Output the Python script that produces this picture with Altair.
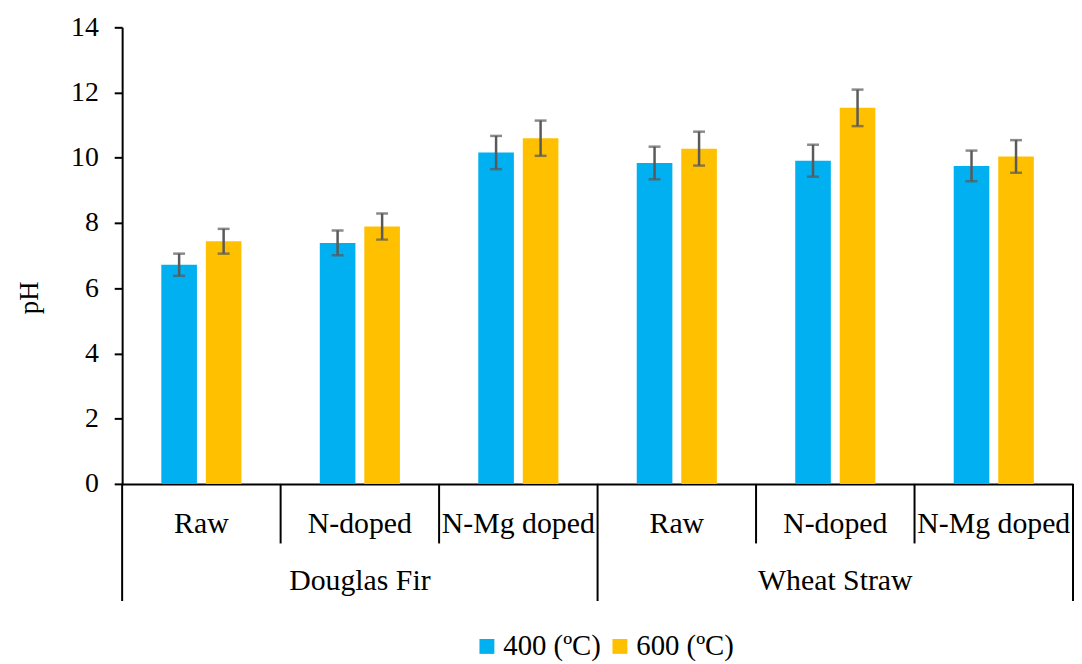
import altair as alt
import pandas as pd

feedstocks = ["Douglas Fir", "Wheat Straw"]
treatments = ["Raw", "N-doped", "N-Mg doped"]
series = ["400 (ºC)", "600 (ºC)"]
ph_400 = [6.72, 7.39, 10.16, 9.84, 9.91, 9.75]
ph_600 = [7.44, 7.89, 10.60, 10.28, 11.53, 10.04]
err_400 = [0.34, 0.38, 0.51, 0.50, 0.49, 0.47]
err_600 = [0.38, 0.40, 0.54, 0.52, 0.56, 0.50]
y_ticks = [0, 2, 4, 6, 8, 10, 12, 14]
colors = ["#00B0F0", "#FFC000"]

FONT = "Times New Roman"

keys = [f"{f}|{t}" for f in feedstocks for t in treatments]
rows = []
for i, k in enumerate(keys):
    for s, vals, errs in ((series[0], ph_400, err_400), (series[1], ph_600, err_600)):
        rows.append({"key": k, "series": s, "ph": vals[i],
                     "lo": vals[i] - errs[i], "hi": vals[i] + errs[i]})
df = pd.DataFrame(rows)

cat_df = pd.DataFrame({"key": keys, "label": [t for f in feedstocks for t in treatments]})
inner_sep = pd.DataFrame({"key": [f"{f}|{t}" for f in feedstocks for t in treatments[1:]]})
outer_left = pd.DataFrame({"key": [f"{f}|{treatments[0]}" for f in feedstocks]})
outer_right = pd.DataFrame({"key": [keys[-1]]})
group_df = pd.DataFrame({"key": [f"{f}|{treatments[1]}" for f in feedstocks], "label": feedstocks})

xscale = alt.Scale(domain=keys, paddingInner=0, paddingOuter=0)
xoff = alt.XOffset("series:N", scale=alt.Scale(domain=series, paddingInner=0.2, paddingOuter=0.88))
yscale = alt.Scale(domain=[0, 14], nice=False)

def X(**kw):
    return alt.X("key:N", scale=xscale, sort=keys, **kw)

yaxis = alt.Axis(
    values=y_ticks, grid=False, tickColor="black", tickSize=8, tickWidth=2,
    domainColor="black", domainWidth=2, labelFont=FONT, labelFontSize=28,
    labelColor="black", labelPadding=16, title="pH", titleFont=FONT,
    titleFontSize=27, titleFontWeight="normal", titleColor="black",
    titleX=-93, titleY=272, titleAlign="center", titleBaseline="middle")

bars = alt.Chart(df).mark_bar().encode(
    x=X(axis=alt.Axis(labels=False, ticks=False, title=None, domainColor="black", domainWidth=2)),
    xOffset=xoff,
    y=alt.Y("ph:Q", scale=yscale, axis=yaxis),
    color=alt.Color("series:N", scale=alt.Scale(domain=series, range=colors),
                    legend=alt.Legend(orient="none", legendX=353, legendY=609, direction="horizontal",
                                      title=None, symbolType="square", symbolSize=225,
                                      symbolStrokeWidth=0, labelFont=FONT, labelFontSize=29,
                                      labelColor="black", labelOffset=2, columnPadding=4, padding=0)),
)

err = alt.Chart(df).mark_rule(color="#595959", strokeWidth=2.5).encode(
    x=X(), xOffset=xoff, y=alt.Y("lo:Q", scale=yscale), y2="hi:Q")
cap_lo = alt.Chart(df).mark_tick(color="#595959", thickness=2.5, size=12, orient="horizontal").encode(
    x=X(), xOffset=xoff, y=alt.Y("lo:Q", scale=yscale))
cap_hi = alt.Chart(df).mark_tick(color="#595959", thickness=2.5, size=12, orient="horizontal").encode(
    x=X(), xOffset=xoff, y=alt.Y("hi:Q", scale=yscale))

sep_inner = alt.Chart(inner_sep).mark_rule(color="black", strokeWidth=2).encode(
    x=X(bandPosition=0), y=alt.value(460), y2=alt.value(520))
sep_outer_l = alt.Chart(outer_left).mark_rule(color="black", strokeWidth=2).encode(
    x=X(bandPosition=0), y=alt.value(460), y2=alt.value(578))
sep_outer_r = alt.Chart(outer_right).mark_rule(color="black", strokeWidth=2).encode(
    x=X(bandPosition=1), y=alt.value(460), y2=alt.value(578))

inner_txt = alt.Chart(cat_df).mark_text(font=FONT, fontSize=30, color="black", baseline="alphabetic").encode(
    x=X(), y=alt.value(509), text="label:N")
outer_txt = alt.Chart(group_df).mark_text(font=FONT, fontSize=30, color="black", baseline="alphabetic").encode(
    x=X(), y=alt.value(567), text="label:N")

chart = alt.layer(bars, err, cap_lo, cap_hi, sep_inner, sep_outer_l, sep_outer_r, inner_txt, outer_txt).properties(
    width=958, height=460,
    autosize=alt.AutoSizeParams(type="none"),
    padding={"left": 115, "top": 17, "right": 1, "bottom": 179},
).configure(
    font=FONT,
    style={"guide-label": {"font": FONT}, "guide-title": {"font": FONT}},
).configure_view(stroke=None).configure_axis(
    labelFont=FONT, titleFont=FONT
).configure_legend(labelFont=FONT)

chart.save("out.html", embed_options={"renderer": "svg", "actions": False})
